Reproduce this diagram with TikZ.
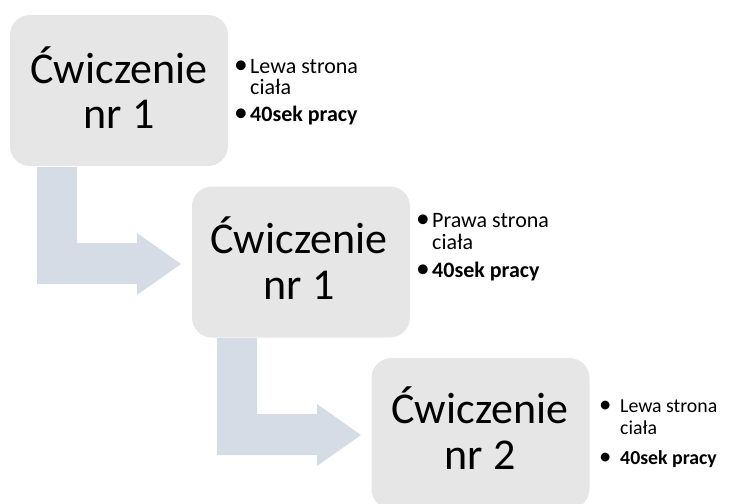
\documentclass[tikz,border=0pt]{standalone}
\usepackage{fontspec}
\usepackage{graphicx}
\setmainfont{Carlito}
\definecolor{boxgray}{HTML}{E7E6E6}
\definecolor{arrowblue}{HTML}{D6DCE5}
\newcommand{\mybul}[1]{\makebox[#1][l]{\hspace*{-3pt}\raisebox{-0.5pt}{\scalebox{1.25}{•}}}}
\begin{document}
\begin{tikzpicture}[x=1pt,y=-1pt,
  box/.style={fill=boxgray, draw=none, rounded corners=20pt, minimum width=218pt, minimum height=151pt, inner sep=0pt},
  bendarrow/.style={fill=arrowblue, draw=none},
  bigtext/.style={anchor=base, inner sep=0pt, font=\fontsize{44}{48}\selectfont},
  smalltext/.style={anchor=base west, inner sep=0pt, font=\fontsize{22}{24}\selectfont},
  smalltextc/.style={anchor=base west, inner sep=0pt, font=\fontsize{19.8}{23}\selectfont}]
\useasboundingbox (0,0) rectangle (735,503);
% arrows
\foreach \dx/\dy in {0/0,180/171}{
  \begin{scope}[shift={(\dx,\dy)}]
  \fill[bendarrow] (37,167) -- (77,167) -- (77,243) -- (137,243) -- (137,233) -- (181,264) -- (137,295) -- (137,284) -- (37,284) -- cycle;
  \end{scope}
}
% boxes
\node[box] (b1) at (119,90.5) {};
\node[box] (b2) at (301,262) {};
\node[box] (b3) at (480.5,433.5) {};
% big labels
\node[bigtext] (t1a) at (119,83) {Ćwiczenie};
\node[bigtext] (t1b) at (119,128) {nr 1};
\node[bigtext] (t2a) at (299,253) {Ćwiczenie};
\node[bigtext] (t2b) at (299,299) {nr 1};
\node[bigtext] (t3a) at (480,423) {Ćwiczenie};
\node[bigtext] (t3b) at (480,469) {nr 2};
% bullets box 1
\node[smalltext] (l1a) at (237,73) {\mybul{13pt}Lewa strona};
\node[smalltext] (l1b) at (250,94) {ciała};
\node[smalltext] (l1c) at (237,121) {\mybul{13pt}\textbf{40sek pracy}};
% bullets box 2
\node[smalltext] (l2a) at (419,227) {\mybul{13pt}Prawa strona};
\node[smalltext] (l2b) at (432,249) {ciała};
\node[smalltext] (l2c) at (419,277) {\mybul{13pt}\textbf{40sek pracy}};
% bullets box 3
\node[smalltextc] (l3a) at (602,412) {\mybul{18pt}Lewa strona};
\node[smalltextc] (l3b) at (620,434) {ciała};
\node[smalltextc] (l3c) at (602,464) {\mybul{18pt}\textbf{40sek pracy}};
\end{tikzpicture}
\end{document}
